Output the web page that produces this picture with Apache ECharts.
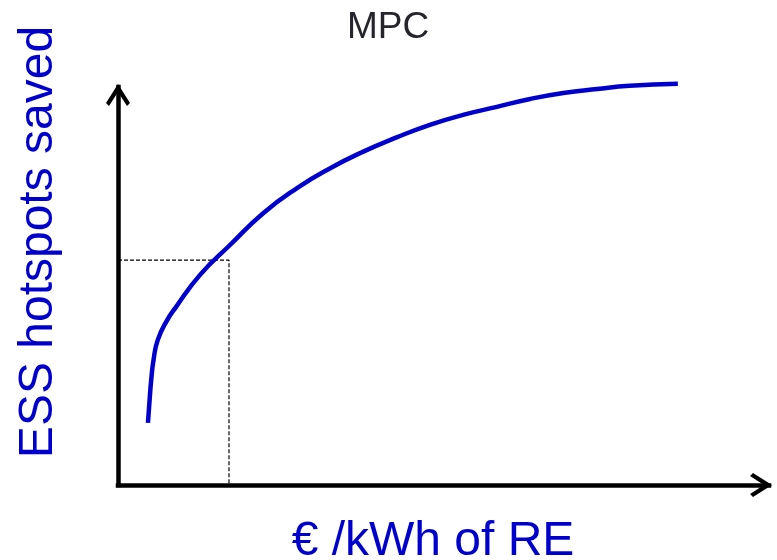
<!DOCTYPE html>
<html>
<head>
<meta charset="utf-8">
<script src="https://cdn.jsdelivr.net/npm/echarts@6/dist/echarts.min.js"></script>
<style>
  html, body { margin: 0; padding: 0; background: #fff; }
  #chart { width: 777px; height: 560px; }
</style>
</head>
<body>
<div id="chart"></div>
<script>
// curve (arbitrary units, both axes 0..100)
var curveX = [4.6, 4.8, 5.1, 5.5, 6.1, 7.4, 8.9, 12.6, 17.2, 22.3, 27.5, 32.6, 37.6, 42.9, 47.9, 53.0, 58.2, 63.3, 68.4, 73.6, 78.6, 86.0]
var curveY = [15.6, 20.1, 26.4, 31.9, 36.4, 41.0, 44.7, 52.8, 60.3, 68.3, 74.6, 79.6, 83.7, 87.4, 90.5, 93.0, 95.0, 97.0, 98.5, 99.5, 100.3, 100.8]

// dashed guide: budget on x, hotspots on y
var guideX = [0, 17.05, 17.05]
var guideY = [56.5, 56.5, 0]

var titleText = 'MPC'
var xName = '€ /kWh of RE'
var yName = 'ESS hotspots saved'

var blue = '#0000cc'
var font = '"Liberation Sans", Arial, sans-serif'
// open chevron arrow head, pointing up
var chevron = 'path://M12,0 L24,19 L21,22 L12,8 L3,22 L0,19 Z'

function pairs (xs, ys) {
  return xs.map(function (x, i) { return [x, ys[i]] })
}

var axisLine = {
  show: true,
  symbol: ['none', chevron],
  symbolSize: [24, 22],
  symbolOffset: [0, -8],
  lineStyle: { color: '#000', width: 4.5, cap: 'square' }
}

var option = {
  animation: false,
  backgroundColor: '#fff',
  title: {
    text: titleText,
    left: 388,
    top: 9,
    padding: 0,
    textAlign: 'center',
    textStyle: { fontFamily: font, fontSize: 37, fontWeight: 'normal', color: '#25252b' }
  },
  grid: { left: 118, right: 8, top: 87, bottom: 75 },
  xAxis: {
    type: 'value',
    min: 0,
    max: 100,
    axisLine: axisLine,
    axisTick: { show: false },
    axisLabel: { show: false },
    splitLine: { show: false }
  },
  yAxis: {
    type: 'value',
    min: 0,
    max: 100,
    axisLine: axisLine,
    axisTick: { show: false },
    axisLabel: { show: false },
    splitLine: { show: false }
  },
  graphic: [
    {
      type: 'text',
      x: 39,
      y: 242,
      rotation: Math.PI / 2,
      style: { text: yName, font: '48px ' + font, fill: blue, textAlign: 'center', textVerticalAlign: 'middle' }
    },
    {
      type: 'text',
      x: 433,
      y: 542,
      style: { text: xName, font: '48px ' + font, fill: blue, textAlign: 'center', textVerticalAlign: 'middle' }
    }
  ],
  series: [
    {
      type: 'line',
      data: pairs(guideX, guideY),
      symbol: 'none',
      silent: true,
      z: 1,
      lineStyle: { color: '#000', width: 1.2, type: [4, 2] }
    },
    {
      type: 'line',
      data: pairs(curveX, curveY),
      smooth: 0.5,
      symbol: 'none',
      clip: false,
      z: 3,
      lineStyle: { color: blue, width: 4.5 }
    }
  ]
}

var chart = echarts.init(document.getElementById('chart'))
chart.setOption(option)
</script>
</body>
</html>
